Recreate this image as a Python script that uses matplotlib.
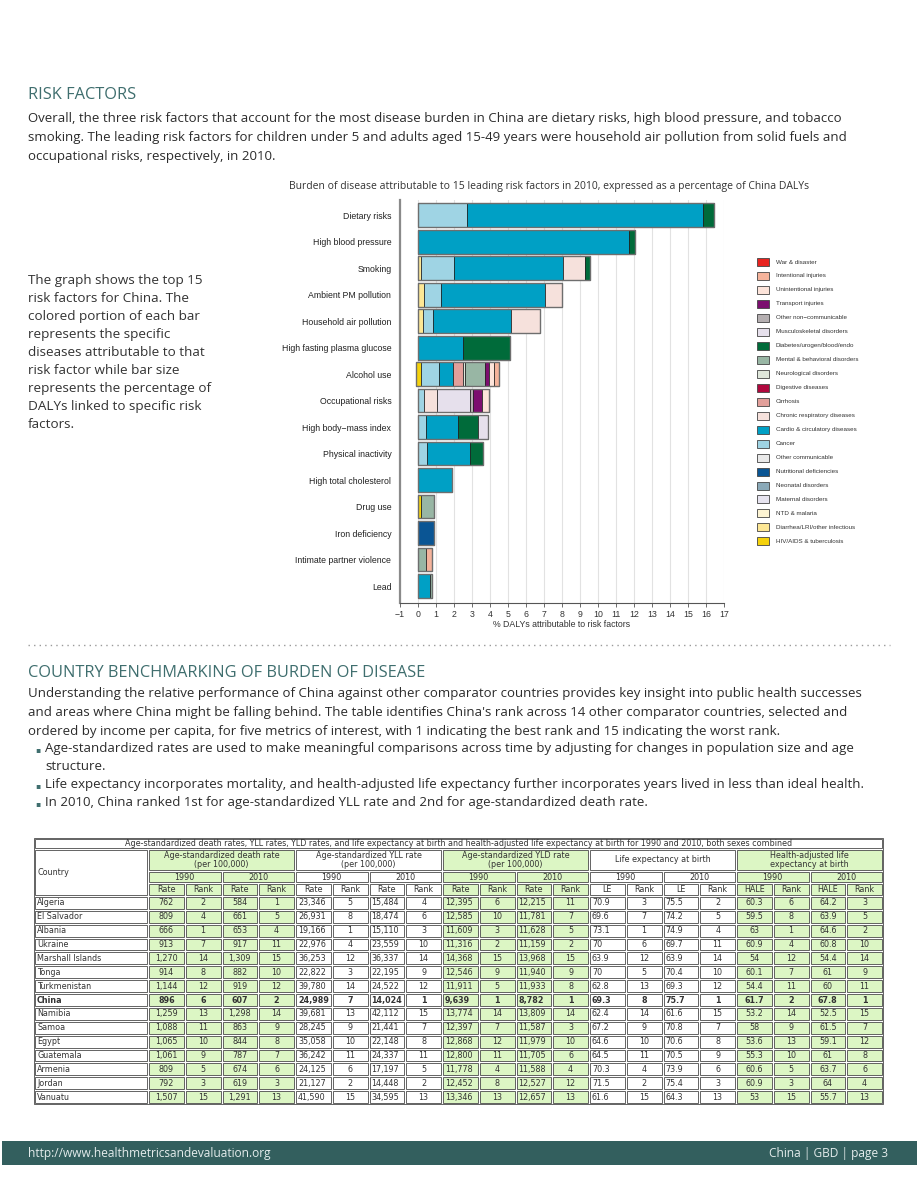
import matplotlib
matplotlib.use("Agg")
import matplotlib.pyplot as plt
from matplotlib import font_manager
from matplotlib.patches import Rectangle

W, H = 919, 1189

# ---- risk factor chart (% of China DALYs in 2010), segments stacked left to right
risk_factors = ["Dietary risks", "High blood pressure", "Smoking", "Ambient PM pollution",
                "Household air pollution", "High fasting plasma glucose", "Alcohol use",
                "Occupational risks", "High body\u2212mass index", "Physical inactivity",
                "High total cholesterol", "Drug use", "Iron deficiency",
                "Intimate partner violence", "Lead"]
bar_start = [0, 0, 0, 0, 0, 0, -0.11, 0, 0, 0, 0, 0, 0, 0, 0]

dietary = [("cancer", 2.75), ("cardio", 13.09), ("diabetes", 0.57)]
blood_pressure = [("cardio", 11.72), ("diabetes", 0.33)]
smoking = [("diarrhea", 0.2), ("cancer", 1.83), ("cardio", 6.03), ("chronic_resp", 1.22), ("diabetes", 0.28)]
ambient_pm = [("diarrhea", 0.35), ("cancer", 0.94), ("cardio", 5.75), ("chronic_resp", 0.98)]
household_air = [("diarrhea", 0.31), ("cancer", 0.56), ("cardio", 4.32), ("chronic_resp", 1.56)]
plasma_glucose = [("cardio", 2.53), ("diabetes", 2.59)]
alcohol = [("hiv", 0.28), ("cancer", 1.03), ("cardio", 0.74), ("cirrhosis", 0.59), ("neuro", 0.09),
           ("mental", 1.11), ("transport", 0.23), ("unintentional", 0.29), ("intentional", 0.24)]
occupational = [("cancer", 0.37), ("chronic_resp", 0.72), ("musculo", 1.81), ("other_ncd", 0.19),
                ("transport", 0.5), ("unintentional", 0.37)]
body_mass = [("cancer", 0.46), ("cardio", 1.76), ("diabetes", 1.11), ("musculo", 0.59)]
inactivity = [("cancer", 0.5), ("cardio", 2.4), ("diabetes", 0.74)]
cholesterol = [("cardio", 1.89)]
drug_use = [("hiv", 0.18), ("mental", 0.74)]
iron = [("nutrition", 0.89)]
partner_violence = [("mental", 0.44), ("intentional", 0.37)]
lead = [("cardio", 0.68), ("mental", 0.1)]
segments = [dietary, blood_pressure, smoking, ambient_pm, household_air, plasma_glucose, alcohol,
            occupational, body_mass, inactivity, cholesterol, drug_use, iron, partner_violence, lead]

cause_keys = ["war", "intentional", "unintentional", "transport", "other_ncd", "musculo", "diabetes",
              "mental", "neuro", "digestive", "cirrhosis", "chronic_resp", "cardio", "cancer",
              "other_comm", "nutrition", "neonatal", "maternal", "ntd", "diarrhea", "hiv"]
cause_labels = ["War & disaster", "Intentional injuries", "Unintentional injuries", "Transport injuries",
                "Other non\u2212communicable", "Musculoskeletal disorders", "Diabetes/urogen/blood/endo",
                "Mental & behavioral disorders", "Neurological disorders", "Digestive diseases",
                "Cirrhosis", "Chronic respiratory diseases", "Cardio & circulatory diseases", "Cancer",
                "Other communicable", "Nutritional deficiencies", "Neonatal disorders",
                "Maternal disorders", "NTD & malaria", "Diarrhea/LRI/other infectious",
                "HIV/AIDS & tuberculosis"]
cause_colors = ["#e8231f", "#f5b39b", "#fde4da", "#7c0e6f", "#b5afb1", "#e6e0ec", "#006b3a",
                "#98b6a4", "#dfe7db", "#b0083e", "#e29f9a", "#f6e1dc", "#00a0c5", "#9fd4e4",
                "#e9e9e9", "#0a5594", "#8aa9b8", "#e7e4f0", "#fdf4d3", "#fde795", "#f5d20c"]

# ---- benchmarking table
countries = ["Algeria", "El Salvador", "Albania", "Ukraine", "Marshall Islands", "Tonga",
             "Turkmenistan", "China", "Namibia", "Samoa", "Egypt", "Guatemala", "Armenia",
             "Jordan", "Vanuatu"]
death_1990 = [762, 809, 666, 913, 1270, 914, 1144, 896, 1259, 1088, 1065, 1061, 809, 792, 1507]
death_1990_rank = [2, 4, 1, 7, 14, 8, 12, 6, 13, 11, 10, 9, 5, 3, 15]
death_2010 = [584, 661, 653, 917, 1309, 882, 919, 607, 1298, 863, 844, 787, 674, 619, 1291]
death_2010_rank = [1, 5, 4, 11, 15, 10, 12, 2, 14, 9, 8, 7, 6, 3, 13]
yll_1990 = [23346, 26931, 19166, 22976, 36253, 22822, 39780, 24989, 39681, 28245, 35058, 36242,
            24125, 21127, 41590]
yll_1990_rank = [5, 8, 1, 4, 12, 3, 14, 7, 13, 9, 10, 11, 6, 2, 15]
yll_2010 = [15484, 18474, 15110, 23559, 36337, 22195, 24522, 14024, 42112, 21441, 22148, 24337,
            17197, 14448, 34595]
yll_2010_rank = [4, 6, 3, 10, 14, 9, 12, 1, 15, 7, 8, 11, 5, 2, 13]
yld_1990 = [12395, 12585, 11609, 11316, 14368, 12546, 11911, 9639, 13774, 12397, 12868, 12800,
            11778, 12452, 13346]
yld_1990_rank = [6, 10, 3, 2, 15, 9, 5, 1, 14, 7, 12, 11, 4, 8, 13]
yld_2010 = [12215, 11781, 11628, 11159, 13968, 11940, 11933, 8782, 13809, 11587, 11979, 11705,
            11588, 12527, 12657]
yld_2010_rank = [11, 7, 5, 2, 15, 9, 8, 1, 14, 3, 10, 6, 4, 12, 13]
le_1990 = [70.9, 69.6, 73.1, 70, 63.9, 70, 62.8, 69.3, 62.4, 67.2, 64.6, 64.5, 70.3, 71.5, 61.6]
le_1990_rank = [3, 7, 1, 6, 12, 5, 13, 8, 14, 9, 10, 11, 4, 2, 15]
le_2010 = [75.5, 74.2, 74.9, 69.7, 63.9, 70.4, 69.3, 75.7, 61.6, 70.8, 70.6, 70.5, 73.9, 75.4, 64.3]
le_2010_rank = [2, 5, 4, 11, 14, 10, 12, 1, 15, 7, 8, 9, 6, 3, 13]
hale_1990 = [60.3, 59.5, 63, 60.9, 54, 60.1, 54.4, 61.7, 53.2, 58, 53.6, 55.3, 60.6, 60.9, 53]
hale_1990_rank = [6, 8, 1, 4, 12, 7, 11, 2, 14, 9, 13, 10, 5, 3, 15]
hale_2010 = [64.2, 63.9, 64.6, 60.8, 54.4, 61, 60, 67.8, 52.5, 61.5, 59.1, 61, 63.7, 64, 55.7]
hale_2010_rank = [3, 5, 2, 10, 14, 9, 11, 1, 15, 7, 12, 8, 6, 4, 13]

# pick a narrow face for the body copy if one is installed
names = {f.name for f in font_manager.fontManager.ttflist}
if "Liberation Sans Narrow" in names:
    body_font, body_size = "Liberation Sans Narrow", 11.2
else:
    body_font, body_size = "Open Sans", 9.5
teal = "#3f6e6e"
ink = "#2b2b2b"

fig = plt.figure(figsize=(W / 100, H / 100), dpi=100)
page = fig.add_axes([0, 0, 1, 1])
page.set_xlim(0, W)
page.set_ylim(H, 0)
page.axis("off")

# ---- risk factors section text
page.text(28, 99, "RISK FACTORS", color=teal, fontsize=11.8, family="Open Sans", va="baseline")
intro = ["Overall, the three risk factors that account for the most disease burden in China are dietary risks, high blood pressure, and tobacco",
         "smoking. The leading risk factors for children under 5 and adults aged 15-49 years were household air pollution from solid fuels and",
         "occupational risks, respectively, in 2010."]
for i, line in enumerate(intro):
    page.text(28, 122 + 19 * i, line, color=ink, fontsize=body_size, family=body_font, va="baseline")

side = ["The graph shows the top 15", "risk factors for China. The", "colored portion of each bar",
        "represents the specific", "diseases attributable to that", "risk factor while bar size",
        "represents the percentage of", "DALYs linked to specific risk", "factors."]
for i, line in enumerate(side):
    page.text(28, 284 + 18 * i, line, color="#333333", fontsize=9.7, family="Open Sans", va="baseline")

page.text(549, 187, "Burden of disease attributable to 15 leading risk factors in 2010, expressed as a percentage of China DALYs",
          color="#333333", fontsize=7.5, family="Open Sans", ha="center", va="center")

# ---- stacked bar chart
ax = fig.add_axes([399.7 / W, 1 - 603 / H, 324.7 / W, 403 / H])
for i, segs in enumerate(segments):
    left = bar_start[i]
    for key, val in segs:
        ax.barh(i, val, left=left, height=0.9, color=cause_colors[cause_keys.index(key)],
                edgecolor="#1a1a1a", linewidth=0.5, zorder=3)
        left += val
    ax.barh(i, left - bar_start[i], left=bar_start[i], height=0.9, fill=False,
            edgecolor="#6e6e6e", linewidth=1.0, zorder=4)
ax.set_xlim(-1, 17)
ax.set_ylim(14.64, -0.57)
ax.set_xticks(range(-1, 18))
ax.set_xticklabels([str(v).replace("-", "\u2212") for v in range(-1, 18)],
                   family="Liberation Sans", fontsize=6.3, color="#333333")
ax.set_yticks(range(15))
ax.set_yticklabels(risk_factors, family="Liberation Sans", fontsize=6.3, color="#222222")
ax.tick_params(axis="y", length=0, pad=6)
ax.tick_params(axis="x", length=3, width=0.6, color="#555555", pad=2)
ax.set_xlabel("% DALYs attributable to risk factors", family="Liberation Sans", fontsize=6.3,
              color="#333333", labelpad=1)
ax.grid(axis="x", color="#e2e2e2", linewidth=0.8, zorder=0)
ax.set_axisbelow(True)
for s in ("top", "right"):
    ax.spines[s].set_visible(False)
ax.spines["left"].set_color("#8a8a8a")
ax.spines["left"].set_linewidth(1.6)
ax.spines["bottom"].set_color("#555555")
ax.spines["bottom"].set_linewidth(0.8)
ax.patch.set_alpha(0)

# ---- legend
for i, (lab, col) in enumerate(zip(cause_labels, cause_colors)):
    yc = 262 + 13.97 * i
    page.add_patch(Rectangle((757, yc - 4), 12, 8, facecolor=col, edgecolor="#444444", lw=0.6))
    page.text(776, yc, lab, fontsize=4.5, family="Liberation Sans", color="#333333", va="center")

# dotted divider
page.plot([28, 890], [645, 645], color="#9a9a9a", lw=1.0, ls=(0, (1, 3)))

# ---- benchmarking section text
page.text(28, 677, "COUNTRY BENCHMARKING OF BURDEN OF DISEASE", color=teal, fontsize=11.8,
          family="Open Sans", va="baseline")
bench = ["Understanding the relative performance of China against other comparator countries provides key insight into public health successes",
         "and areas where China might be falling behind. The table identifies China's rank across 14 other comparator countries, selected and",
         "ordered by income per capita, for five metrics of interest, with 1 indicating the best rank and 15 indicating the worst rank."]
for i, line in enumerate(bench):
    page.text(28, 697 + 19 * i, line, color=ink, fontsize=body_size, family=body_font, va="baseline")
bullets = [("\u25aa", "Age-standardized rates are used to make meaningful comparisons across time by adjusting for changes in population size and age"),
           ("", "structure."),
           ("\u25aa", "Life expectancy incorporates mortality, and health-adjusted life expectancy further incorporates years lived in less than ideal health."),
           ("\u25aa", "In 2010, China ranked 1st for age-standardized YLL rate and 2nd for age-standardized death rate.")]
for i, (mark, line) in enumerate(bullets):
    yb = 752 + 18 * i
    if mark:
        page.text(35, yb, mark, color=teal, fontsize=5.5, family="DejaVu Sans", va="baseline")
    page.text(45, yb, line, color=ink, fontsize=body_size, family=body_font, va="baseline")

# ---- table
tx0, tx1 = 34, 883
country_w = 114
col_w = (tx1 - tx0 - country_w) / 20
green = "#dcf6c4"
row_h = 13.87
data_top = 896
cell_size = 5.8


def cell(x0, y0, w, h, fill, text="", ha="center", bold=False, size=cell_size):
    page.add_patch(Rectangle((x0 + 1, y0 + 1), w - 2, h - 2, facecolor=fill,
                             edgecolor="#4a4a4a", lw=0.6))
    if text:
        xt = x0 + w / 2 if ha == "center" else x0 + 3
        page.text(xt, y0 + h / 2, text, ha=ha, va="center", fontsize=size, color="#333333",
                  family="DejaVu Sans", weight="bold" if bold else "normal", linespacing=1.0)


page.add_patch(Rectangle((tx0, 838), tx1 - tx0, data_top + 15 * row_h - 838,
                         fill=False, edgecolor="#4a4a4a", lw=0.6))
cell(tx0, 838, tx1 - tx0, 11, "white",
     "Age-standardized death rates, YLL rates, YLD rates, and life expectancy at birth and health-adjusted life expectancy at birth for 1990 and 2010, both sexes combined")
cell(tx0, 849, country_w, data_top - 849, "white", "Country", ha="left")

groups = [("Age-standardized death rate\n(per 100,000)", True, "Rate", "center"),
          ("Age-standardized YLL rate\n(per 100,000)", False, "Rate", "left"),
          ("Age-standardized YLD rate\n(per 100,000)", True, "Rate", "left"),
          ("Life expectancy at birth", False, "LE", "left"),
          ("Health-adjusted life\nexpectancy at birth", True, "HALE", "center")]
values = [(death_1990, death_1990_rank, death_2010, death_2010_rank),
          (yll_1990, yll_1990_rank, yll_2010, yll_2010_rank),
          (yld_1990, yld_1990_rank, yld_2010, yld_2010_rank),
          (le_1990, le_1990_rank, le_2010, le_2010_rank),
          (hale_1990, hale_1990_rank, hale_2010, hale_2010_rank)]


def fmt(v):
    return f"{v:,}" if isinstance(v, int) else f"{v:g}"


for g, ((title, is_green, sub, align), cols) in enumerate(zip(groups, values)):
    fill = green if is_green else "white"
    gx = tx0 + country_w + g * 4 * col_w
    cell(gx, 849, 4 * col_w, 22, fill, title)
    for k, year in enumerate(["1990", "2010"]):
        cell(gx + 2 * k * col_w, 871, 2 * col_w, 12, fill, year)
    for k in range(4):
        cell(gx + k * col_w, 883, col_w, data_top - 883, fill, sub if k % 2 == 0 else "Rank")
    for r in range(len(countries)):
        bold = countries[r] == "China"
        for k in range(4):
            ha = align if k % 2 == 0 else "center"
            cell(gx + k * col_w, data_top + r * row_h, col_w, row_h, fill, fmt(cols[k][r]),
                 ha=ha, bold=bold)

for r, name in enumerate(countries):
    cell(tx0, data_top + r * row_h, country_w, row_h, "white", name, ha="left",
         bold=name == "China")

# ---- footer band
page.add_patch(Rectangle((2, 1141), W - 4, 24, facecolor="#335f5e", edgecolor="none"))
page.text(28, 1157, "http://www.healthmetricsandevaluation.org", color="#e4ecec",
          fontsize=body_size * 0.9, family=body_font, va="baseline")
page.text(888, 1157, "China | GBD | page 3", color="#e4ecec", fontsize=body_size * 0.9,
          family=body_font, va="baseline", ha="right")

fig.savefig("out.png", dpi=100)
